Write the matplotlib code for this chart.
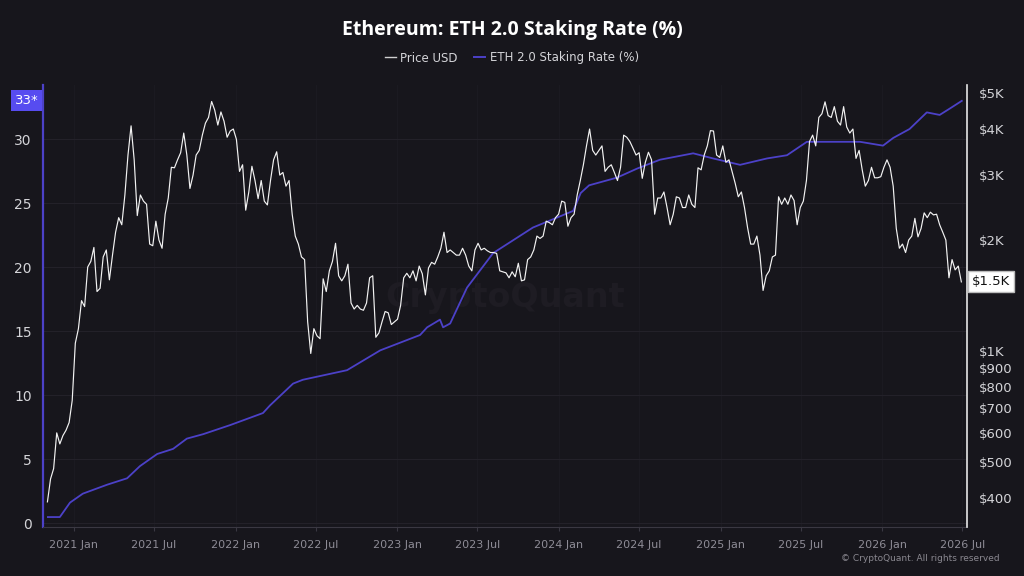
import numpy as np
import pandas as pd
import matplotlib
matplotlib.use("Agg")
import matplotlib.pyplot as plt
import matplotlib.transforms as mtransforms
from matplotlib.lines import Line2D

# ETH 2.0 staking rate (%)
stake_dates = ['2020-11-03', '2020-11-30', '2020-12-23', '2021-01-21', '2021-03-17',
               '2021-05-01', '2021-05-30', '2021-07-08', '2021-08-13', '2021-09-13',
               '2021-10-20', '2021-12-20', '2022-03-04', '2022-03-20', '2022-05-11',
               '2022-06-02', '2022-09-10', '2022-11-24', '2023-02-22', '2023-03-10',
               '2023-04-08', '2023-04-15', '2023-05-01', '2023-06-08', '2023-08-06',
               '2023-11-04', '2024-01-20', '2024-02-03', '2024-02-20', '2024-03-10',
               '2024-05-12', '2024-06-26', '2024-08-17', '2024-10-31', '2024-12-15',
               '2025-02-14', '2025-04-16', '2025-05-31', '2025-07-15', '2025-08-30',
               '2025-11-12', '2026-01-03', '2026-01-26', '2026-03-04', '2026-04-12',
               '2026-05-11', '2026-06-03', '2026-06-30']
stake_rate = [0.47, 0.47, 1.6, 2.3, 3.0, 3.5, 4.45, 5.4, 5.8, 6.6,
              6.95, 7.66, 8.6, 9.2, 10.9, 11.2, 11.95, 13.5, 14.7, 15.3,
              15.9, 15.3, 15.6, 18.4, 21.1, 23.1, 24.2, 24.4, 25.8, 26.4,
              27.0, 27.7, 28.4, 28.9, 28.5, 28.0, 28.5, 28.75, 29.8, 29.8,
              29.8, 29.5, 30.1, 30.8, 32.1, 31.9, 32.4, 33.0]

# weekly ETH price (USD), one list per year, first Monday given
price_2020_start = '2020-11-02'
price_2020 = [390, 450, 480, 600, 560, 590, 610, 640, 735]
price_2021_start = '2021-01-04'
price_2021 = [1050, 1150, 1370, 1320, 1690, 1750, 1910, 1450, 1480, 1800,
              1880, 1560, 1820, 2100, 2300, 2200, 2650, 3400, 4080, 3300,
              2330, 2650, 2550, 2500, 1950, 1930, 2250, 2000, 1900, 2350,
              2600, 3150, 3140, 3300, 3450, 3900, 3400, 2760, 3000, 3400,
              3500, 3850, 4150, 4300, 4750, 4500, 4100, 4450, 4200, 3800,
              3950, 4000]
price_2022_start = '2022-01-03'
price_2022 = [3750, 3070, 3200, 2410, 2700, 3170, 2900, 2590, 2900, 2550,
              2490, 2900, 3300, 3470, 3000, 3050, 2800, 2900, 2350, 2050,
              1950, 1800, 1770, 1200, 985, 1150, 1100, 1080, 1570, 1450,
              1650, 1750, 1960, 1600, 1550, 1600, 1720, 1350, 1300, 1330,
              1300, 1290, 1350, 1580, 1600, 1090, 1120, 1200, 1280, 1270,
              1180, 1200]
price_2023_start = '2023-01-02'
price_2023 = [1220, 1330, 1580, 1625, 1580, 1650, 1550, 1700, 1620, 1420,
              1680, 1740, 1720, 1800, 1900, 2100, 1850, 1880, 1850, 1820,
              1820, 1900, 1820, 1700, 1650, 1880, 1960, 1880, 1900, 1870,
              1850, 1850, 1840, 1650, 1640, 1630, 1580, 1640, 1590, 1730,
              1550, 1560, 1770, 1800, 1880, 2050, 2020, 2050, 2250, 2230,
              2200, 2300]
price_2024_start = '2024-01-01'
price_2024 = [2350, 2550, 2530, 2180, 2300, 2350, 2650, 2900, 3200, 3600,
              4000, 3500, 3400, 3500, 3600, 3070, 3150, 3200, 3050, 2900,
              3150, 3850, 3800, 3700, 3550, 3400, 3450, 2940, 3250, 3460,
              3300, 2350, 2600, 2600, 2700, 2450, 2200, 2350, 2620, 2600,
              2450, 2450, 2650, 2500, 2450, 3140, 3100, 3400, 3600, 3960,
              3950, 3400, 3350]
price_2025_start = '2025-01-06'
price_2025 = [3600, 3250, 3300, 3070, 2850, 2620, 2700, 2450, 2160, 1950,
              1950, 2050, 1820, 1460, 1600, 1650, 1800, 1820, 2620, 2500,
              2600, 2500, 2650, 2560, 2200, 2450, 2550, 2900, 3700, 3850,
              3600, 4300, 4400, 4740, 4350, 4300, 4600, 4200, 4100, 4600,
              4050, 3900, 4000, 3330, 3500, 3100, 2800, 2900, 3150, 2950,
              2950, 2970]
price_2026_start = '2026-01-05'
price_2026 = [3150, 3300, 3150, 2800, 2150, 1900, 1950, 1850, 2000, 2050,
              2290, 2040, 2150, 2370, 2300, 2380, 2340, 2350, 2200, 2100,
              2000, 1580, 1770, 1660, 1700, 1540]

left_ticks = [0, 5, 10, 15, 20, 25, 30]
right_ticks = [400, 500, 600, 700, 800, 900, 1000, 2000, 3000, 4000, 5000]
right_labels = ['$400', '$500', '$600', '$700', '$800', '$900', '$1K', '$2K', '$3K', '$4K', '$5K']
x_ticks = ['2021-01-01', '2021-07-01', '2022-01-01', '2022-07-01', '2023-01-01', '2023-07-01',
           '2024-01-01', '2024-07-01', '2025-01-01', '2025-07-01', '2026-01-01', '2026-07-01']
x_labels = ['2021 Jan', '2021 Jul', '2022 Jan', '2022 Jul', '2023 Jan', '2023 Jul',
            '2024 Jan', '2024 Jul', '2025 Jan', '2025 Jul', '2026 Jan', '2026 Jul']

# build weekly price series
parts = []
for start, vals in [(price_2020_start, price_2020), (price_2021_start, price_2021),
                    (price_2022_start, price_2022), (price_2023_start, price_2023),
                    (price_2024_start, price_2024), (price_2025_start, price_2025),
                    (price_2026_start, price_2026)]:
    parts.append(pd.Series(vals, index=pd.date_range(start, periods=len(vals), freq='7D')))
price = pd.concat(parts)
stake = pd.Series(stake_rate, index=pd.to_datetime(stake_dates))

BG = '#17161c'
PURPLE = '#4c41c8'
GRID = '#24222a'
TXT = '#d4d4d8'

fig = plt.figure(figsize=(10.24, 5.76), dpi=100, facecolor=BG)
ax = fig.add_axes([0.042, 0.085, 0.902, 0.767])
ax.set_facecolor(BG)
ax2 = ax.twinx()

ax.plot(stake.index, stake.values, color=PURPLE, lw=1.3, zorder=3)
ax2.plot(price.index, price.values, color='#f2f2f2', lw=0.85, zorder=4)

ax.set_xlim(pd.Timestamp('2020-10-23'), pd.Timestamp('2026-07-11'))
ax.set_ylim(-0.31, 34.22)
ax2.set_yscale('log')
ax2.set_ylim(333.3, 5257)

ax.set_yticks(left_ticks)
ax.set_yticklabels([str(t) for t in left_ticks])
ax.tick_params(axis='y', colors=TXT, labelsize=10, length=0, pad=8)
ax2.set_yticks(right_ticks)
ax2.set_yticklabels(right_labels)
ax2.yaxis.set_minor_locator(matplotlib.ticker.NullLocator())
ax2.tick_params(axis='y', colors=TXT, labelsize=9.5, length=0, pad=9)

ax.set_xticks(pd.to_datetime(x_ticks))
ax.set_xticklabels(x_labels)
ax.tick_params(axis='x', colors='#3a3842', labelcolor='#8e8c96', labelsize=8, length=3, pad=6)

ax.grid(True, axis='y', color=GRID, lw=0.7)
ax.grid(True, axis='x', color='#1c1b22', lw=0.7)
ax.set_axisbelow(True)

for a in (ax, ax2):
    for side in ('top', 'left', 'right', 'bottom'):
        a.spines[side].set_visible(False)
ax.spines['left'].set_visible(True)
ax.spines['left'].set_color(PURPLE)
ax.spines['left'].set_linewidth(1.6)
ax2.spines['right'].set_visible(True)
ax2.spines['right'].set_color('#e6e6e6')
ax2.spines['right'].set_linewidth(1.2)
ax.spines['bottom'].set_visible(True)
ax.spines['bottom'].set_color('#3a3842')

# current value boxes
trans_l = mtransforms.blended_transform_factory(ax.transAxes, ax.transData)
ax.text(-0.005, stake.values[-1], '33*', transform=trans_l, ha='right', va='center',
        color='white', fontsize=9.5, zorder=10, clip_on=False,
        bbox=dict(facecolor='#574cf0', edgecolor='none', boxstyle='square,pad=0.3'))
trans_r = mtransforms.blended_transform_factory(ax2.transAxes, ax2.transData)
last = price.values[-1]
ax2.text(1.006, last, '$%.1fK' % (np.floor(last / 100) / 10), transform=trans_r, ha='left', va='center',
         color='#111111', fontsize=9.5, zorder=10, clip_on=False,
         bbox=dict(facecolor='white', edgecolor='#bbbbbb', boxstyle='square,pad=0.3'))

# watermark
ax.text(0.5, 0.52, 'CryptoQuant', transform=ax.transAxes, ha='center', va='center',
        fontsize=24, color='#1e1c23', fontweight='bold', zorder=1)

fig.text(0.5, 0.948, 'Ethereum: ETH 2.0 Staking Rate (%)', ha='center', va='center',
         color='white', fontsize=14, fontweight='bold', family=['Open Sans', 'DejaVu Sans'])

handles = [Line2D([], [], color='#cfcfcf', lw=1.0), Line2D([], [], color=PURPLE, lw=1.4)]
fig.legend(handles, ['Price USD', 'ETH 2.0 Staking Rate (%)'], loc='center',
           bbox_to_anchor=(0.5, 1 - 58 / 576), ncol=2, frameon=False, fontsize=8.5,
           labelcolor=TXT, handlelength=0.9, handletextpad=0.4, columnspacing=1.4)

fig.text(0.976, 0.031, '\u00a9 CryptoQuant. All rights reserved', ha='right', va='center',
         color='#8a8890', fontsize=6.5)

fig.savefig('out.png', dpi=100, facecolor=BG)
